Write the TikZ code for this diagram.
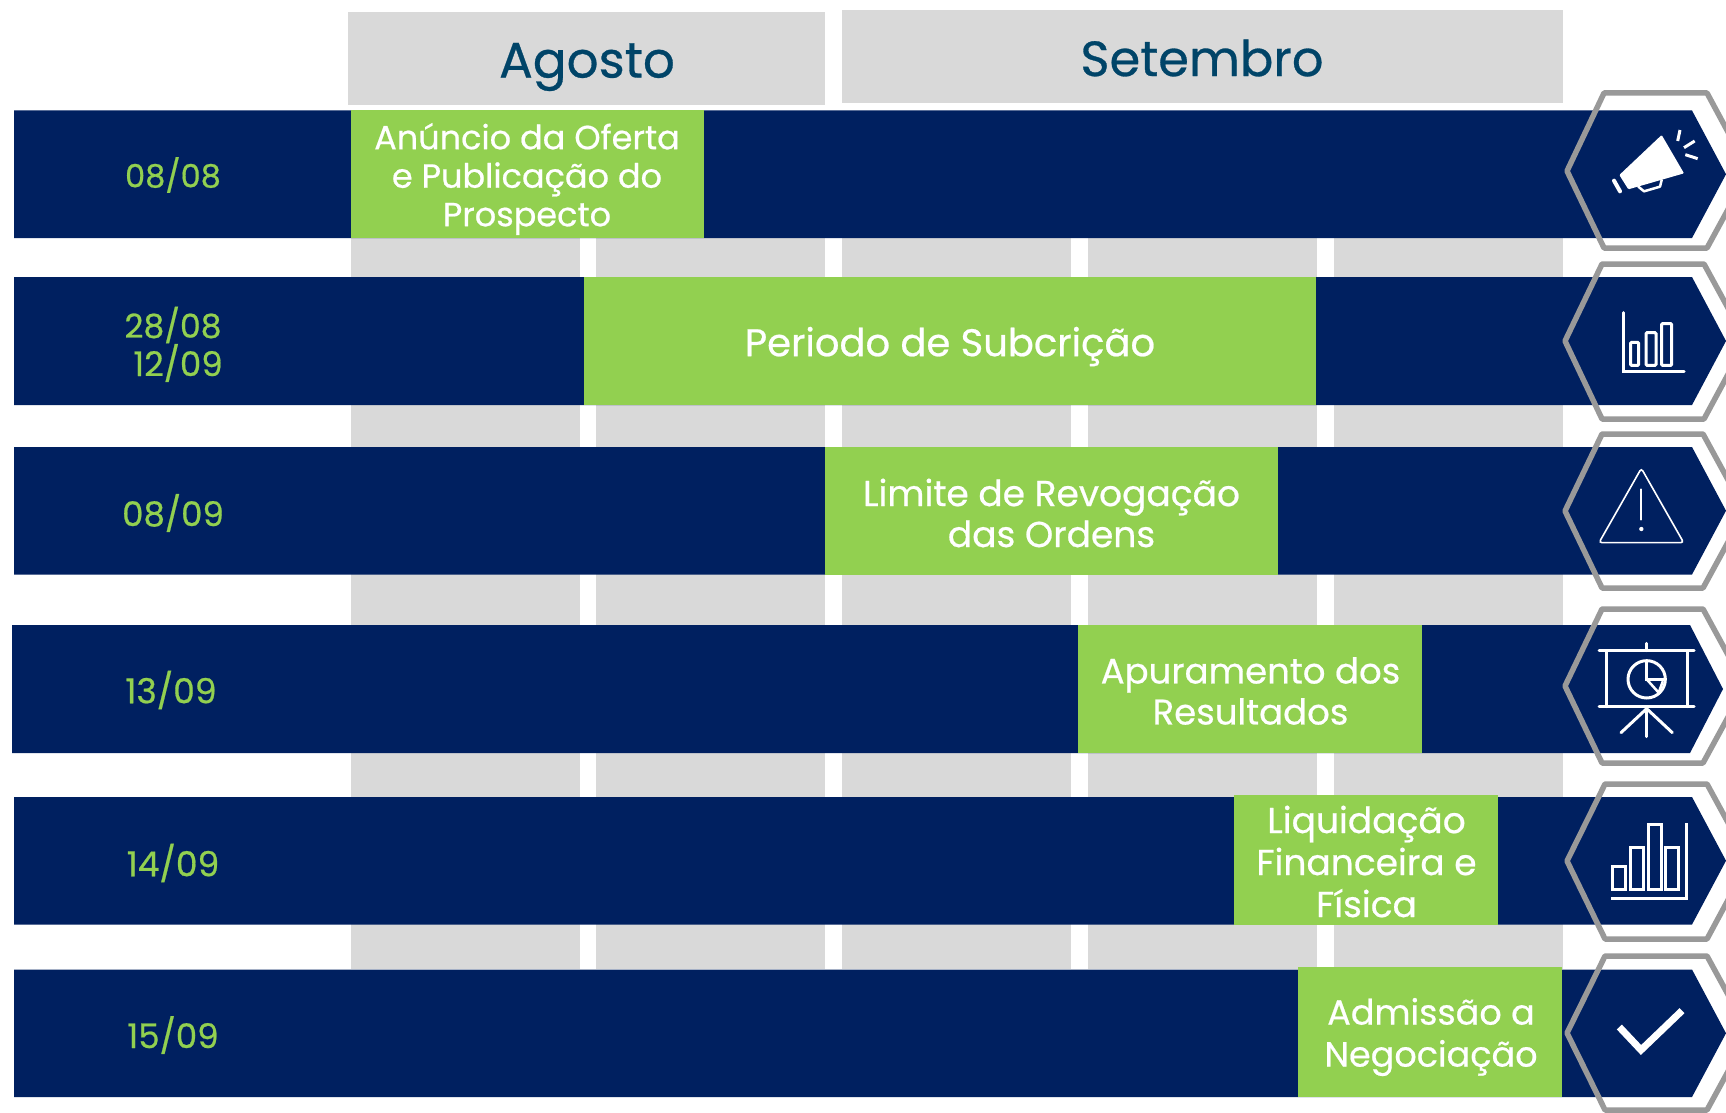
\documentclass[tikz,border=0pt]{standalone}
\usepackage{fontspec}
\setmainfont{Poppins}[RawFeature={embolden=0.6}]
\definecolor{navy}{HTML}{002060}
\definecolor{lime}{HTML}{92D050}
\definecolor{pale}{HTML}{D9D9D9}
\definecolor{hexgrey}{HTML}{999999}
\definecolor{headblue}{HTML}{004468}
\newcommand{\fsz}[2]{\fontsize{#1}{#2}\selectfont}
\tikzset{
 x=1pt,y=-1pt,
 monthtext/.style={text=headblue,inner sep=0pt},
 datetext/.style={text=lime,inner sep=0pt,align=center},
 tasktext/.style={text=white,inner sep=0pt,align=center},
 hexring/.style={draw=hexgrey,line width=5.5pt,line join=round},
 icon/.style={draw=white,line width=3pt,line cap=round},
 zone/.style={x=.33333pt,y=-.33333pt}
}
% #1 top y, #2 bottom y, #3 left x, #4 shoulder x, #5 tip x
\newcommand{\navybar}[5]{\fill[navy] (#3,#1) -- (#4,#1) -- (#5,{(#1+#2)/2}) -- (#4,#2) -- (#3,#2) -- cycle;}
% #1 top, #2 bottom, #3 left tip, #4 top-left, #5 top-right, #6 centre y
\newcommand{\hexagonring}[6]{\draw[hexring] (#4,#1) -- (#5,#1) -- (#5+42,#6) -- (#5,#2) -- (#4,#2) -- (#3,#6) -- cycle;}
\newcommand{\greenbox}[4]{\fill[lime] (#1,#3) rectangle (#2,#4);}
\begin{document}
\begin{tikzpicture}
\useasboundingbox (0,0) rectangle (1726,1113);
\clip (0,0) rectangle (1726,1113);
\fill[white] (0,0) rectangle (1726,1113);
% headers
\fill[pale] (348,12) rectangle (825,105);
\fill[pale] (842,10) rectangle (1563,103);
% columns
\foreach \a/\b in {351/580,596/825,842/1071,1088/1317,1334/1563}{
  \fill[pale] (\a,238) rectangle (\b,969);
}
% bars
\navybar{110.5}{238}{14}{1692}{1726}
\navybar{277}{405}{14}{1692}{1726}
\navybar{447}{574.5}{14}{1692}{1726}
\navybar{625}{753}{12}{1690}{1723}
\navybar{797}{924.5}{14}{1692}{1726}
\navybar{969.5}{1097}{14}{1692}{1726}
% green boxes
\greenbox{351}{704}{110}{238}
\greenbox{584}{1316}{277}{405}
\greenbox{825}{1278}{447}{574.5}
\greenbox{1078}{1422}{625}{753}
\greenbox{1234}{1498}{795}{924.5}
\greenbox{1298}{1562}{967}{1097}
% hexagon rings
\hexagonring{93}{248}{1567}{1604}{1707}{171}
\hexagonring{264}{419}{1565}{1602}{1704}{341}
\hexagonring{434}{588}{1565}{1602}{1703}{511}
\hexagonring{609}{763}{1565}{1602}{1703}{686}
\hexagonring{784}{939}{1567}{1605}{1707}{861}
\hexagonring{956}{1110}{1567}{1605}{1707}{1033}
% texts
\node[monthtext,font=\fsz{50}{54}] (ago) at (587,67) {Agosto};
\node[monthtext,font=\fsz{49.5}{54}] (set) at (1202,58) {Setembro};
\node[datetext,font=\fsz{32}{38}] (d1) at (173,175) {08/08};
\node[datetext,font=\fsz{33}{38}] (d2a) at (173,325) {28/08};
\node[datetext,font=\fsz{34}{38}] (d2b) at (178,363) {12/09};
\node[datetext,font=\fsz{34}{38}] (d3) at (173,513) {08/09};
\node[datetext,font=\fsz{34.5}{38}] (d4) at (171,690) {13/09};
\node[datetext,font=\fsz{34.5}{38}] (d5) at (173,863) {14/09};
\node[datetext,font=\fsz{34}{38}] (d6) at (173,1035) {15/09};
\node[tasktext,font=\fsz{33.5}{38.5}] (t1) at (527,179) {Anúncio da Oferta\\e Publicação do\\Prospecto};
\node[tasktext,font=\fsz{38.5}{42}] (t2) at (950,346.5) {Periodo de Subcrição};
\node[tasktext,font=\fsz{36}{41}] (t3) at (1051.5,513) {Limite de Revogação\\das Ordens};
\node[tasktext,font=\fsz{35.5}{41}] (t4) at (1250.5,691) {Apuramento dos\\Resultados};
\node[tasktext,font=\fsz{36}{42}] (t5) at (1366.5,861.5) {Liquidação\\Financeira e\\Física};
\node[tasktext,font=\fsz{35}{42}] (t6) at (1431,1037) {Admissão a\\Negociação};
% megaphone
\begin{scope}[shift={(1500,70)},zone]
 \fill[white,rounded corners=1pt] (358,315) -- (485,195) -- (552,310) -- (385,358) -- cycle;
 \draw[icon,line width=4pt] (342,332) -- (360,364);
 \draw[icon,line width=2.5pt,line join=round] (415,350) -- (432,364) -- (480,350) -- (485,330);
 \draw[icon,line cap=butt] (540,180) -- (533,213);
 \draw[icon,line cap=butt] (584,213) -- (552,233);
 \draw[icon,line cap=butt] (556,254) -- (593,266);
 % chart 1
 \draw[icon] (371,728) -- (371,906) -- (552,906);
 \draw[icon,rounded corners=1pt] (392,817) rectangle (416,886);
 \draw[icon,rounded corners=1pt] (438,788) rectangle (468,886);
 \draw[icon,rounded corners=1pt] (485,761) rectangle (515,886);
\end{scope}
% warning and presentation
\begin{scope}[shift={(1500,420)},zone]
 \draw[icon,line width=1.6pt,rounded corners=3pt] (424,145) -- (551,368) -- (297,368) -- cycle;
 \draw[icon,line width=2pt] (424,208) -- (424,299);
 \fill[white] (424,327) circle[radius=6.5];
 \draw[icon] (297,692) -- (582,692);
 \draw[icon] (297,860) -- (582,860);
 \draw[icon] (320,692) -- (320,860);
 \draw[icon] (562,692) -- (562,860);
 \draw[icon] (440,670) -- (440,692);
 \draw[icon] (440,778) circle[radius=56];
 \draw[icon,line width=2.5pt] (440,726) -- (440,778) -- (496,778);
 \draw[icon,line width=2.5pt] (440,778) -- (476,818) -- (488,785);
 \draw[icon] (440,860) -- (440,950);
 \draw[icon] (440,866) -- (363,938);
 \draw[icon] (440,866) -- (517,938);
\end{scope}
% chart 2 and check mark
\begin{scope}[shift={(1500,770)},zone]
 \draw[icon,line cap=butt] (338,290) rectangle (377,358);
 \draw[icon,line cap=butt] (391,232) rectangle (430,358);
 \draw[icon,line cap=butt] (444,162) rectangle (483,358);
 \draw[icon,line cap=butt] (497,232) rectangle (535,358);
 \draw[icon,line cap=butt,miter limit=10] (334,384) -- (558,384) -- (558,160);
 \draw[icon,line width=7pt,line cap=butt,miter limit=10] (358,771) -- (423,840) -- (546,722);
\end{scope}
\end{tikzpicture}
\end{document}
